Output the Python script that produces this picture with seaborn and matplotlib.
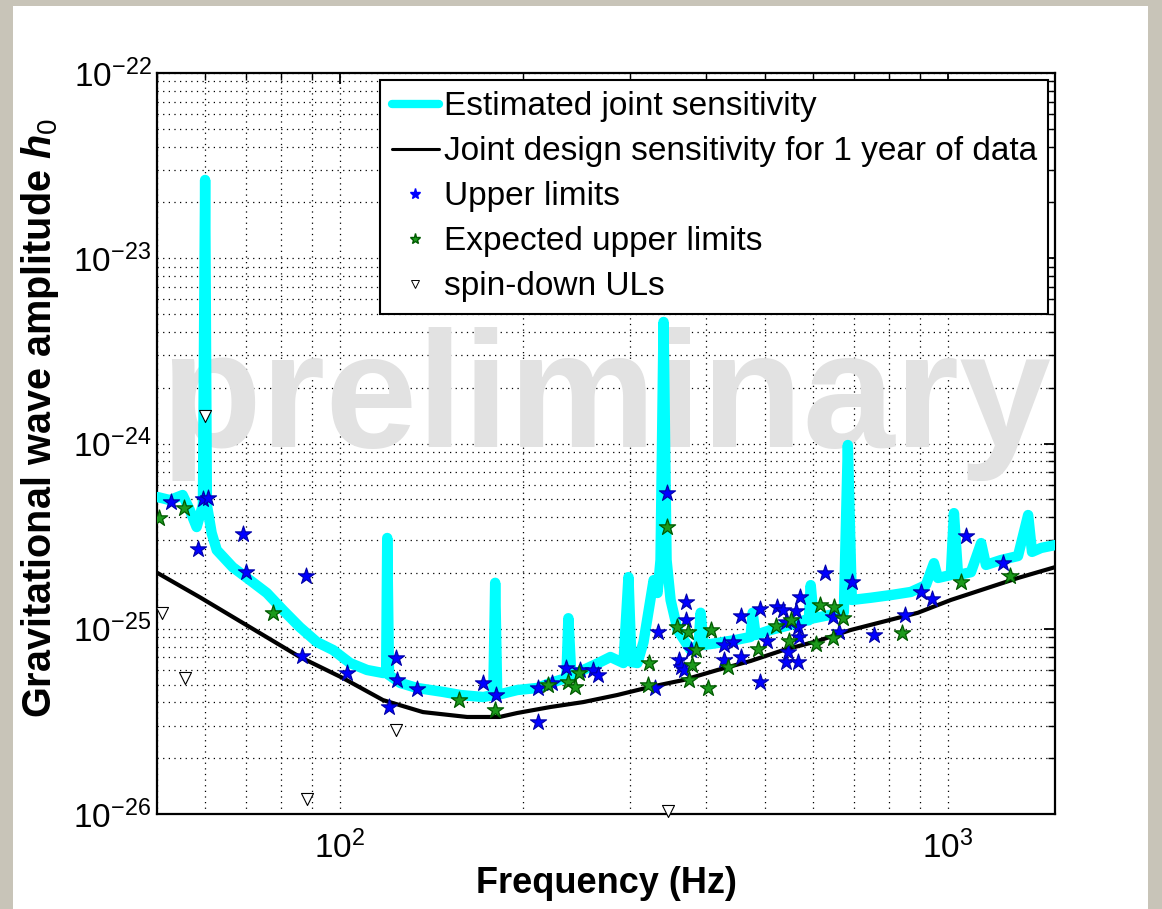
import numpy as np
import seaborn as sns
import matplotlib
matplotlib.use("Agg")
import matplotlib.pyplot as plt
from matplotlib.lines import Line2D
from matplotlib.patches import Rectangle
from matplotlib.ticker import LogLocator, NullFormatter, FixedLocator

# Estimated joint sensitivity (frequency in Hz, amplitude in units of 1e-25)
est_freq = [50.1, 52.5, 55.1, 56.6, 58.1, 59.5, 60.0, 60.4, 61.5, 62.7,
            66.6, 71.1, 75.8, 80.6, 85.9, 91.6, 97.4, 103.9, 110.8, 117.7,
            119.1, 119.6, 120.4, 125.6, 133.9, 147.8, 157.7, 172.1, 178.7, 180.0,
            181.4, 195.7, 211.2, 221.8, 235.7, 237.5, 240.2, 251.3, 266.1, 278.5,
            292.6, 298.2, 301.6, 308.5, 315.7, 328.0, 332.9, 336.7, 340.6, 344.5,
            349.8, 359.2, 377.3, 388.9, 391.9, 396.4, 417.9, 447.4, 473.6, 477.2,
            482.7, 510.9, 551.2, 579.1, 590.2, 594.7, 601.5, 641.6, 674.2, 684.5,
            694.9, 746.7, 805.5, 869.0, 920.0, 948.3, 962.8, 1011, 1023, 1039,
            1091, 1134, 1155, 1223, 1304, 1355, 1375, 1423, 1500]
est_amp = [5.14, 4.95, 5.27, 4.38, 3.54, 4.66, 264.5, 4.66, 3.29, 2.66,
           2.15, 1.83, 1.56, 1.26, 1.02, 0.848, 0.768, 0.653, 0.599, 0.577,
           0.577, 3.09, 0.563, 0.510, 0.479, 0.456, 0.439, 0.428, 0.439, 1.77,
           0.439, 0.467, 0.479, 0.510, 0.542, 1.14, 0.556, 0.599, 0.653, 0.704,
           0.653, 1.90, 0.661, 0.653, 0.848, 1.83, 1.56, 2.35, 45.3, 2.35,
           1.43, 0.985, 0.768, 0.817, 1.22, 0.817, 0.838, 0.870, 0.903, 1.22,
           0.925, 0.985, 1.05, 1.11, 1.11, 1.72, 1.14, 1.19, 1.23, 9.81,
           1.43, 1.47, 1.52, 1.58, 1.72, 2.26, 1.88, 1.95, 4.21, 1.95,
           2.02, 2.90, 2.21, 2.35, 2.47, 4.11, 2.60, 2.73, 2.83]

# Joint design sensitivity for 1 year of data (units of 1e-25)
design_freq = [50.1, 58.8, 71.1, 85.9, 101.1, 117.7, 136.9, 161.9, 183.0,
               195.7, 221.8, 251.3, 285.9, 323.7, 367.4, 417.9, 473.6, 536.7, 610.8,
               692.1, 892.4, 1011, 1304, 1500]
design_amp = [2.00, 1.48, 1.02, 0.704, 0.542, 0.412, 0.355, 0.334, 0.334,
              0.351, 0.378, 0.402, 0.439, 0.485, 0.529, 0.599, 0.670, 0.768, 0.859,
              0.985, 1.22, 1.43, 1.88, 2.15]

# Upper limits (units of 1e-25)
ul_freq = [52.7, 58.3, 59.5, 60.6, 69.2, 70.0, 87.9, 86.6, 102.7, 120.4,
           123.7, 124.1, 133.9, 172.1, 180.7, 212.0, 212.0, 223.5, 235.7, 248.5,
           261.1, 266.1, 330.3, 332.9, 344.5, 360.5, 363.3, 367.4, 370.2, 370.2,
           377.3, 427.6, 427.6, 442.5, 456.0, 456.0, 490.1, 490.1, 503.3, 522.7,
           534.8, 540.9, 540.9, 545.0, 561.8, 566.1, 566.1, 568.3, 570.4, 627.2,
           646.5, 661.4, 694.9, 755.3, 849.7, 902.8, 940.9, 1070.7, 1232.4]
ul_amp = [4.83, 2.69, 5.02, 5.08, 3.25, 2.02, 1.93, 0.713, 0.577, 0.378,
          0.695, 0.529, 0.473, 0.510, 0.439, 0.479, 0.314, 0.510, 0.614, 0.599,
          0.599, 0.563, 0.479, 0.961, 5.40, 0.678, 0.622, 0.599, 1.39, 1.11,
          0.768, 0.817, 0.678, 0.848, 1.17, 0.704, 1.28, 0.516, 0.859, 1.31,
          1.26, 1.09, 0.661, 0.749, 1.25, 1.02, 0.661, 0.903, 1.48, 2.00,
          1.16, 0.961, 1.79, 0.925, 1.19, 1.58, 1.45, 3.17, 2.26]

# Expected upper limits (units of 1e-25)
exp_freq = [50.3, 55.3, 77.5, 157.1, 180.0, 220.1, 237.5, 243.8, 247.6, 320.5,
            322.9, 344.5, 357.8, 373.0, 378.7, 374.4, 384.5, 402.4, 407.0, 434.2,
            486.4, 520.7, 547.1, 551.2, 606.1, 615.4, 646.5, 649.0, 671.5, 840.0,
            1050.5, 1265.5]
exp_amp = [3.96, 4.49, 1.22, 0.412, 0.364, 0.497, 0.516, 0.485, 0.577, 0.497,
           0.653, 3.54, 1.02, 0.961, 0.637, 0.529, 0.768, 0.479, 0.985, 0.622,
           0.778, 1.03, 0.859, 1.11, 0.827, 1.34, 0.891, 1.31, 1.14, 0.949,
           1.79, 1.93]

# Spin-down upper limits (units of 1e-25)
sd_freq = [50.9, 55.5, 60.0, 123.7, 88.2, 345.8]
sd_amp = [1.22, 0.542, 14.1, 0.284, 0.120, 0.104]

legend_labels = ["Estimated joint sensitivity",
                 "Joint design sensitivity for 1 year of data",
                 "Upper limits",
                 "Expected upper limits",
                 "spin-down ULs"]

x_major = [100, 1000]
y_major = [1e-26, 1e-25, 1e-24, 1e-23, 1e-22]

scale = 1e-25

sns.set_theme(style="white")
plt.rcParams['font.family'] = ['Liberation Sans', 'DejaVu Sans']
plt.rcParams['mathtext.fontset'] = 'custom'
plt.rcParams['mathtext.rm'] = 'Liberation Sans'
plt.rcParams['mathtext.it'] = 'Liberation Sans:italic:bold'
plt.rcParams['mathtext.bf'] = 'Liberation Sans:bold'
for key in ('text.color', 'axes.labelcolor', 'xtick.color', 'ytick.color'):
    plt.rcParams[key] = 'black'

fig = plt.figure(figsize=(11.62, 9.09), dpi=100, facecolor='#c8c4b8')
# white slide area over the grey border
fig.patches.append(Rectangle((0.0112, 0.0), 0.9768, 0.9934, transform=fig.transFigure,
                             facecolor='white', edgecolor='none', zorder=-10))
ax = fig.add_axes([0.1351, 0.1045, 0.7728, 0.8152])
ax.set_zorder(1)
ax.set_facecolor('white')
ax.set_xscale('log')
ax.set_yscale('log')

# watermark behind everything
ax.text(0.5, 0.495, "preliminary", transform=ax.transAxes, ha='center', va='baseline',
        fontsize=119, fontweight='bold', color='#e2e2e2', zorder=1)

sns.lineplot(x=design_freq, y=np.array(design_amp) * scale, sort=False, estimator=None,
             color='black', lw=3, ax=ax, zorder=2)
sns.lineplot(x=est_freq, y=np.array(est_amp) * scale, sort=False, estimator=None,
             color='#00ffff', lw=7.5, ax=ax, zorder=3)
sns.scatterplot(x=ul_freq, y=np.array(ul_amp) * scale, marker='*', s=150,
                color='#0000ff', edgecolor='#0000a8', linewidth=0.8, ax=ax, zorder=4,
                legend=False)
sns.scatterplot(x=exp_freq, y=np.array(exp_amp) * scale, marker='*', s=150,
                color='#1c9a1c', edgecolor='#005a00', linewidth=0.9, ax=ax, zorder=5,
                legend=False)
sns.scatterplot(x=sd_freq, y=np.array(sd_amp) * scale, marker='v', s=75,
                color='white', edgecolor='black', linewidth=0.8, ax=ax, zorder=5,
                legend=False, clip_on=False)

ax.set_xlim(50, 1500)
ax.set_ylim(1e-26, 1e-22)

ax.xaxis.set_major_locator(FixedLocator(x_major))
ax.yaxis.set_major_locator(FixedLocator(y_major))
for axis in (ax.xaxis, ax.yaxis):
    axis.set_minor_locator(LogLocator(base=10, subs=np.arange(2, 10), numticks=100))
    axis.set_minor_formatter(NullFormatter())

ax.grid(True, which='both', color='black', linestyle=(0, (1, 3.5)), linewidth=0.9)
ax.tick_params(which='both', direction='in', top=True, right=True, colors='black',
               labelsize=24)
ax.tick_params(which='major', length=8, width=1.3)
ax.tick_params(which='minor', length=5, width=1.0)
ax.tick_params(axis='y', pad=4)
ax.tick_params(axis='x', pad=12)
for sp in ax.spines.values():
    sp.set_color('black')
    sp.set_linewidth(1.6)

ax.set_xlabel("Frequency (Hz)", fontsize=26, fontweight='bold')
ax.set_ylabel(r"Gravitational wave amplitude $h_0$", fontsize=28.5, fontweight='bold')
ax.xaxis.set_label_coords(0.5, -0.07)
ax.yaxis.set_label_coords(-0.107, 0.534)

handles = [Line2D([], [], color='#00ffff', lw=6),
           Line2D([], [], color='black', lw=2.2),
           Line2D([], [], ls='none', marker='*', color='#0000ff', markersize=8),
           Line2D([], [], ls='none', marker='*', color='#1c9a1c', markeredgecolor='#005a00',
                  markersize=8),
           Line2D([], [], ls='none', marker='v', markerfacecolor='white',
                  markeredgecolor='black', markersize=6, markeredgewidth=0.7)]
leg = ax.legend(handles, legend_labels, loc='upper right', fontsize=24, frameon=True,
                fancybox=False, framealpha=1, edgecolor='black', borderaxespad=0.2,
                borderpad=0.35, labelspacing=0.42, handlelength=1.4, handletextpad=0.15)
leg.get_frame().set_linewidth(1.5)
leg.set_zorder(10)

fig.savefig("out.png", dpi=100, facecolor=fig.get_facecolor())
